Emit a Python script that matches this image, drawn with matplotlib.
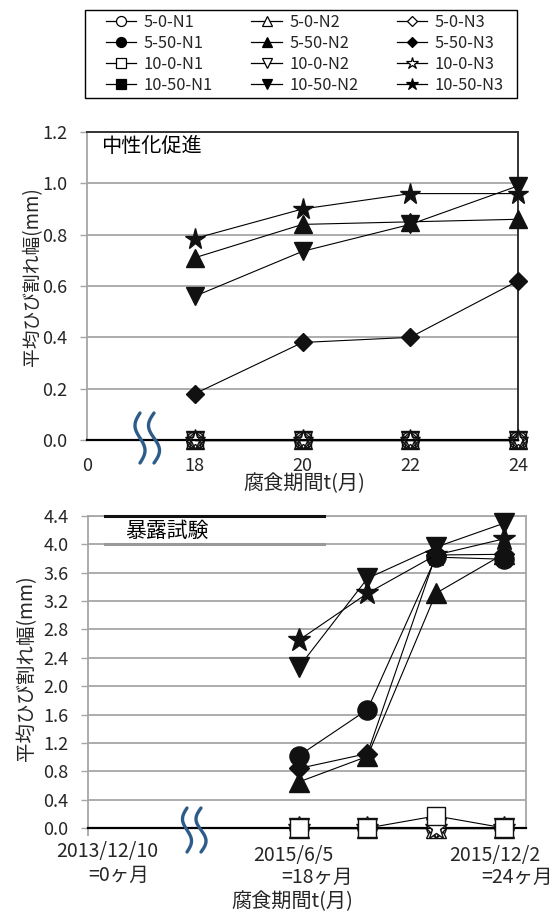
import numpy as np
import matplotlib
matplotlib.use("Agg")
import matplotlib.pyplot as plt
from matplotlib.lines import Line2D
from matplotlib.patches import Rectangle

plt.rcParams['font.family'] = ['Noto Sans CJK JP', 'DejaVu Sans']

# ---------------- data ----------------
months = [18, 20, 22, 24]
top_tick_labels = ["0", "18", "20", "22", "24"]

series_names = ["5-0-N1", "5-0-N2", "5-0-N3",
                "5-50-N1", "5-50-N2", "5-50-N3",
                "10-0-N1", "10-0-N2", "10-0-N3",
                "10-50-N1", "10-50-N2", "10-50-N3"]

# top chart (中性化促進)
top_5_0_N1 = [0.0, 0.0, 0.0, 0.0]
top_5_0_N2 = [0.0, 0.0, 0.0, 0.0]
top_5_0_N3 = [0.0, 0.0, 0.0, 0.0]
top_5_50_N2 = [0.71, 0.84, 0.85, 0.86]
top_5_50_N3 = [0.18, 0.38, 0.40, 0.62]
top_10_0_N1 = [0.0, 0.0, 0.0, 0.0]
top_10_0_N2 = [0.0, 0.0, 0.0, 0.0]
top_10_0_N3 = [0.0, 0.0, 0.0, 0.0]
top_10_50_N2 = [0.56, 0.735, 0.84, 0.99]
top_10_50_N3 = [0.785, 0.90, 0.96, 0.96]

# bottom chart (暴露試験)
bot_5_0_N1 = [0.0, 0.0, 0.0, 0.0]
bot_5_0_N2 = [0.0, 0.0, 0.0, 0.0]
bot_5_0_N3 = [0.0, 0.0, 0.0, 0.0]
bot_5_50_N1 = [1.02, 1.67, 3.82, 3.79]
bot_5_50_N2 = [0.65, 1.01, 3.31, 3.87]
bot_5_50_N3 = [0.84, 1.05, 3.85, 3.86]
bot_10_0_N1 = [0.0, 0.0, 0.17, 0.0]
bot_10_0_N2 = [0.0, 0.0, 0.0, 0.0]
bot_10_0_N3 = [0.0, 0.0, 0.0, 0.0]
bot_10_50_N2 = [2.27, 3.52, 3.96, 4.30]
bot_10_50_N3 = [2.65, 3.31, 3.85, 4.08]

top_yticks = [0.0, 0.2, 0.4, 0.6, 0.8, 1.0, 1.2]
bot_yticks = [0.0, 0.4, 0.8, 1.2, 1.6, 2.0, 2.4, 2.8, 3.2, 3.6, 4.0, 4.4]
bot_date_labels = ["2013/12/10", "2015/6/5", "2015/12/2"]
bot_month_labels = ["=0ヶ月", "=18ヶ月", "=24ヶ月"]

# ---------------- styles ----------------
style = {
    "5-0-N1": ("o", False), "5-0-N2": ("^", False), "5-0-N3": ("D", False),
    "5-50-N1": ("o", True), "5-50-N2": ("^", True), "5-50-N3": ("D", True),
    "10-0-N1": ("s", False), "10-0-N2": ("v", False), "10-0-N3": ("*", False),
    "10-50-N1": ("s", True), "10-50-N2": ("v", True), "10-50-N3": ("*", True),
}
msize = {"o": 12, "^": 12, "D": 9, "s": 11, "v": 12, "*": 15}

W, H = 555, 913
fig = plt.figure(figsize=(W / 100, H / 100), dpi=100)


def fx(px):
    return px / W


def fy(py):
    return 1 - py / H


GRID = '#a6a6a6'
TXT = '#262626'


def style_axes(ax, yticks):
    ax.set_yticks(yticks)
    ax.set_yticklabels([f"{v:.1f}" for v in yticks], fontsize=13, color=TXT)
    ax.yaxis.grid(True, color=GRID, lw=1.3)
    ax.set_axisbelow(True)
    ax.tick_params(axis='y', direction='out', length=5, color=GRID, width=1, pad=9)
    ax.spines['left'].set_color(GRID)
    ax.spines['left'].set_linewidth(1.3)
    ax.spines['bottom'].set_color('black')
    ax.spines['bottom'].set_linewidth(1.6)


def plot_series(ax, x, name, y, ms_scale=1.0, open_face='white', z=3):
    if y is None:
        return
    mk, filled = style[name]
    ax.plot(x, y, color='black', lw=0.8, marker=mk,
            markersize=msize[mk] * ms_scale,
            markerfacecolor=('#111111' if filled else open_face),
            markeredgecolor='#111111', markeredgewidth=1.0,
            clip_on=False, zorder=z)


# ---------------- top chart ----------------
ax1 = fig.add_axes([fx(87), fy(440), (518 - 87) / W, (440 - 132) / H])
ax1.set_xlim(0, 4)
ax1.set_ylim(0, 1.2)
style_axes(ax1, top_yticks)
ax1.spines['top'].set_color('#333333')
ax1.spines['top'].set_linewidth(1.4)
ax1.spines['right'].set_color('#333333')
ax1.spines['right'].set_linewidth(1.4)
ax1.set_xticks(range(len(top_tick_labels)))
ax1.set_xticklabels(top_tick_labels, fontsize=13, color=TXT)
ax1.tick_params(axis='x', length=0, pad=12)
ax1.set_xticks([0], minor=True)
ax1.tick_params(axis='x', which='minor', length=12, color=GRID, width=1.3)

xt = np.arange(1, len(months) + 1)
top_data = [("5-0-N1", top_5_0_N1), ("5-0-N2", top_5_0_N2), ("5-0-N3", top_5_0_N3),
            ("10-0-N1", top_10_0_N1), ("10-0-N2", top_10_0_N2), ("10-0-N3", top_10_0_N3),
            ("5-50-N3", top_5_50_N3), ("10-50-N2", top_10_50_N2),
            ("5-50-N2", top_5_50_N2), ("10-50-N3", top_10_50_N3)]
for name, y in top_data:
    plot_series(ax1, xt, name, y, ms_scale=1.05, open_face='none')

fig.text(fx(101), fy(146), "中性化促進", fontsize=14.5, color='black', ha='left', va='center')

# ---------------- bottom chart ----------------
ax2 = fig.add_axes([fx(88), fy(828), (526 - 88) / W, (828 - 516) / H])
ax2.set_xlim(11.84, 24.63)
ax2.set_ylim(0, 4.4)
style_axes(ax2, bot_yticks)
for s in ('top', 'right'):
    ax2.spines[s].set_color(GRID)
    ax2.spines[s].set_linewidth(1.3)
ax2.set_xticks([])
ax2.set_xticks([11.84], minor=True)
ax2.tick_params(axis='x', which='minor', length=6, color=GRID, width=1.3, labelbottom=False)

bot_data = [("5-0-N1", bot_5_0_N1), ("5-0-N2", bot_5_0_N2), ("5-0-N3", bot_5_0_N3),
            ("10-0-N2", bot_10_0_N2), ("10-0-N3", bot_10_0_N3), ("10-0-N1", bot_10_0_N1),
            ("5-50-N2", bot_5_50_N2), ("5-50-N3", bot_5_50_N3), ("5-50-N1", bot_5_50_N1),
            ("10-50-N3", bot_10_50_N3), ("10-50-N2", bot_10_50_N2)]
for name, y in bot_data:
    plot_series(ax2, months, name, y, ms_scale=1.15, open_face='white')

# text-box border remnants
fig.add_artist(Line2D([fx(105), fx(324)], [fy(516), fy(516)], color='#111111', lw=2.2))
fig.add_artist(Line2D([fx(105), fx(324)], [fy(544), fy(544)], color='#999999', lw=2.2))
fig.text(fx(125), fy(531), "暴露試験", fontsize=15, color='black', ha='left', va='center')

# bottom x labels
date_px = [(107, 851), (293, 855), (495, 855)]
month_px = [(119, 875), (317, 877), (517, 877)]
for (px, py), t in zip(date_px, bot_date_labels):
    fig.text(fx(px), fy(py), t, fontsize=14, color=TXT, ha='center', va='center')
for (px, py), t in zip(month_px, bot_month_labels):
    fig.text(fx(px), fy(py), t, fontsize=14, color=TXT, ha='center', va='center')

# axis titles
fig.text(fx(33), fy(277), "平均ひび割れ幅(mm)", fontsize=13.5, rotation=90,
         ha='center', va='center', color=TXT)
fig.text(fx(26.7), fy(668), "平均ひび割れ幅(mm)", fontsize=14, rotation=90,
         ha='center', va='center', color=TXT)
fig.text(fx(304), fy(484), "腐食期間t(月)", fontsize=14.5, ha='center', va='center', color=TXT)
fig.text(fx(292), fy(902), "腐食期間t(月)", fontsize=14.5, ha='center', va='center', color=TXT)


# ---------------- break marks ----------------
def wave(cx, y0, y1, amp):
    s = np.linspace(0, 1, 60)
    xs = cx - amp * np.sin(2 * np.pi * s)
    ys = y0 + (y1 - y0) * s
    fig.add_artist(Line2D(fx(xs), fy(ys), color='#2e5c8a', lw=2.4, solid_capstyle='round'))


wave(140, 413, 463, 5)
wave(154, 413, 463, 5.5)
wave(187, 808, 852, 4.5)
wave(201, 808, 852, 5)

# ---------------- legend ----------------
handles = {}
for name in series_names:
    mk, filled = style[name]
    handles[name] = Line2D([], [], color='black', lw=0.9, marker=mk,
                           markersize=msize[mk] * 0.6,
                           markerfacecolor=('black' if filled else 'white'),
                           markeredgecolor='black', markeredgewidth=0.9)
order = []
for c in range(3):
    for r in range(4):
        order.append(series_names[r * 3 + c])
leg = fig.legend([handles[n] for n in order], order, ncol=3, loc='upper left',
                 bbox_to_anchor=(fx(106), fy(14)), fontsize=11.8, frameon=False,
                 handlelength=1.85, handletextpad=0.45, columnspacing=2.35,
                 labelspacing=0.24, borderpad=0, borderaxespad=0)
for t in leg.get_texts():
    t.set_color(TXT)
fig.add_artist(Rectangle((fx(85), fy(98)), (517 - 85) / W, (98 - 10) / H,
                         transform=fig.transFigure, fill=False, ec='black', lw=1.0))

fig.savefig("out.png", dpi=100)
